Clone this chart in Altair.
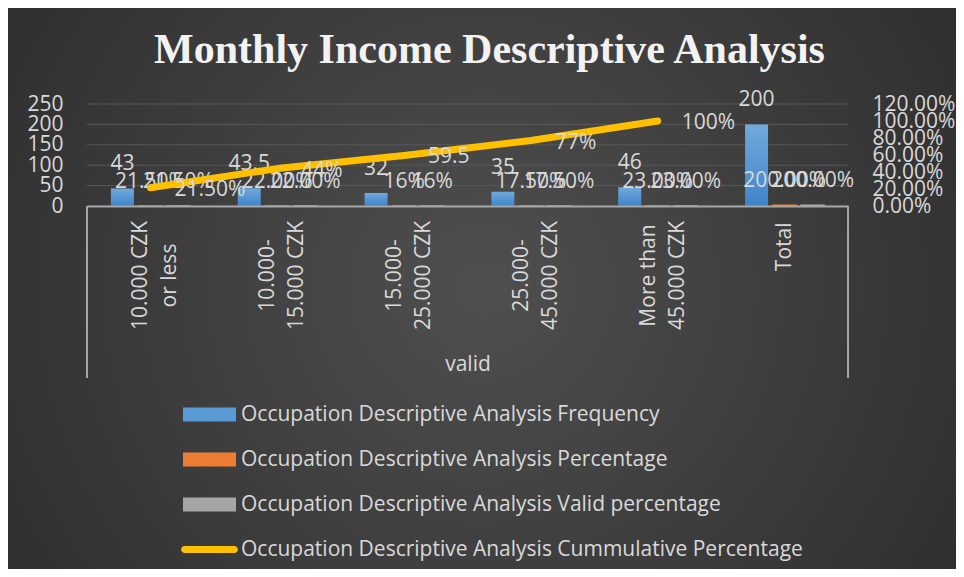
import json
import altair as alt
import pandas as pd

# ---------------- data ----------------
categories = ["10.000 CZK or less", "10.000-15.000 CZK", "15.000-25.000 CZK",
              "25.000-45.000 CZK", "More than 45.000 CZK", "Total"]
category_lines = [["10.000 CZK", "or less"], ["10.000-", "15.000 CZK"], ["15.000-", "25.000 CZK"],
                  ["25.000-", "45.000 CZK"], ["More than", "45.000 CZK"], ["Total"]]

series_names = ["Occupation Descriptive Analysis Frequency",
                "Occupation Descriptive Analysis Percentage",
                "Occupation Descriptive Analysis Valid percentage"]
line_name = "Occupation Descriptive Analysis Cummulative Percentage"

frequency = [43, 43.5, 32, 35, 46, 200]
frequency_labels = ["43", "43.5", "32", "35", "46", "200"]
percentage = [0.215, 0.22, 0.16, 0.175, 0.23, 2.0]
percentage_labels = ["21.50%", "22.00%", "16%", "17.50%", "23.00%", "200.00%"]
valid_percentage = [0.215, 0.22, 0.16, 0.175, 0.23, 2.0]
valid_labels = ["21.50%", "22.00%", "16%", "17.50%", "23.00%", "200.00%"]
cumulative = [0.215, 0.44, 0.595, 0.77, 1.0]
cumulative_labels = ["21.50%", "44%", "59.5", "77%", "100%"]

left_ticks = [0, 50, 100, 150, 200, 250]
right_ticks = [0, 0.2, 0.4, 0.6, 0.8, 1.0, 1.2]

colors = ["#5b9bd5", "#ed7d31", "#a5a5a5", "#ffc000"]

# ---------------- tables ----------------
rows = []
for vals, labs, name in [(frequency, frequency_labels, series_names[0]),
                         (percentage, percentage_labels, series_names[1]),
                         (valid_percentage, valid_labels, series_names[2])]:
    for c, v, l in zip(categories, vals, labs):
        rows.append({"cat": c, "series": name, "value": v, "label": l})
bars_df = pd.DataFrame(rows)
line_df = pd.DataFrame({"cat": categories[:5], "cum": cumulative, "label": cumulative_labels})
legend_df = pd.DataFrame({"series": series_names + [line_name]})
grid_df = pd.DataFrame({"value": left_ticks})

# ---------------- styling ----------------
FONT = "Open Sans"
TXT = "#d9d9d9"
W, H = 761, 102
PAD = {"left": 79, "top": 96, "right": 108, "bottom": 363}

label_expr = ""
for c, lines in zip(categories, category_lines):
    label_expr += f"datum.value == {json.dumps(c)} ? {json.dumps(lines)} : "
label_expr += "datum.label"
single_test = " || ".join(f"datum.value == {json.dumps(c)}"
                          for c, lines in zip(categories, category_lines) if len(lines) == 1)

x_scale = alt.Scale(domain=categories, paddingInner=0.377, paddingOuter=0.1885)
x_axis = alt.Axis(title="valid", labelAngle=-90,
                  labelAlign={"condition": {"test": single_test, "value": "right"}, "value": "center"},
                  labelPadding={"condition": {"test": single_test, "value": 16}, "value": 69},
                  labelOffset={"condition": {"test": single_test, "value": 0}, "value": -9},
                  labelBaseline="middle",
                  labelExpr=label_expr, labelFont=FONT, labelFontSize=21, labelColor=TXT,
                  labelLineHeight=29, labelLimit=0, ticks=False, tickSize=0,
                  domainColor="#a6a6a6", domainWidth=2, grid=False, zindex=1,
                  titleFont=FONT, titleFontSize=21, titleFontWeight="normal", titleColor=TXT,
                  titleY=164, titleBaseline="alphabetic")
X = alt.X("cat:N", sort=categories, scale=x_scale, axis=x_axis)

y_left_scale = alt.Scale(domain=[0, 250], nice=False)
y_left_axis = alt.Axis(values=left_ticks, title=None, grid=False, domain=False, ticks=False,
                       labelPadding=24, labelFont=FONT, labelFontSize=21, labelColor=TXT,
                       labelOverlap=False, zindex=1)
y_right_axis = alt.Axis(orient="right", values=right_ticks, format=".2%",
                        title=None, grid=False, domain=False, ticks=False, labelPadding=24,
                        labelFont=FONT, labelFontSize=21, labelColor=TXT, labelOverlap=False,
                        zindex=1)
YL = alt.Y("value:Q", scale=y_left_scale, axis=y_left_axis)

bar_fill_scale = alt.Scale(domain=series_names[1:], range=colors[1:3])
xoff = alt.XOffset("series:N", sort=series_names,
                   scale=alt.Scale(domain=series_names, paddingInner=0.18, paddingOuter=0))

# background
background = alt.Chart(alt.Data(values=[{"k": 1}])).mark_rect(
    fill=alt.RadialGradient(gradient="radial", x1=0.5, y1=0.5, r1=0, x2=0.5, y2=0.5, r2=0.75,
                            stops=[alt.GradientStop(offset=0, color="#4f4f4f"),
                                   alt.GradientStop(offset=1, color="#262626")])
).encode(x=alt.value(-PAD["left"]), x2=alt.value(W + PAD["right"]),
         y=alt.value(-PAD["top"]), y2=alt.value(H + PAD["bottom"]))

grid = alt.Chart(grid_df).mark_rule(color="#595959", strokeWidth=1).encode(y=YL)

freq_bars = alt.Chart(bars_df).transform_filter(
    alt.datum.series == series_names[0]
).mark_bar(
    fill=alt.LinearGradient(gradient="linear", x1=0, y1=0, x2=0, y2=1,
                            stops=[alt.GradientStop(offset=0, color="#72a9dd"),
                                   alt.GradientStop(offset=1, color="#3f84c8")])
).encode(x=X, xOffset=xoff, y=YL)

pct_bars = alt.Chart(bars_df).transform_filter(
    alt.datum.series != series_names[0]
).mark_bar(strokeWidth=1.5).encode(
    x=X, xOffset=xoff, y=YL,
    fill=alt.Fill("series:N", scale=bar_fill_scale, legend=None),
    stroke=alt.Stroke("series:N", scale=bar_fill_scale, legend=None),
)
bar_labels = alt.Chart(bars_df).mark_text(font=FONT, fontSize=21, color=TXT, dy=-24,
                                          baseline="middle").encode(
    x=X, xOffset=xoff, y=YL, text="label:N")

frame_left = alt.Chart(alt.Data(values=[{"k": 1}])).mark_rule(color="#a6a6a6", strokeWidth=2).encode(
    x=alt.value(0), y=alt.value(H), y2=alt.value(H + 172))
frame_right = alt.Chart(alt.Data(values=[{"k": 1}])).mark_rule(color="#a6a6a6", strokeWidth=2).encode(
    x=alt.value(W), y=alt.value(H), y2=alt.value(H + 172))

rect_path = "M-1,-0.264H1V0.264H-1Z"
stadium_path = "M-0.94,-0.132H0.94A0.132,0.132,0,0,1,0.94,0.132H-0.94A0.132,0.132,0,0,1,-0.94,-0.132Z"
legend_def = alt.Legend(orient="none", legendX=96, legendY=284, title=None, direction="vertical",
                        labelFont=FONT, labelFontSize=21, labelColor=TXT, symbolSize=2809,
                        symbolOpacity=1, symbolStrokeWidth=0, labelOffset=5, labelLimit=0,
                        rowPadding=8)
legend_layer = alt.Chart(legend_df).mark_point(filled=True, opacity=0).encode(
    color=alt.Color("series:N", scale=alt.Scale(domain=series_names + [line_name], range=colors),
                    legend=legend_def),
    shape=alt.Shape("series:N", scale=alt.Scale(domain=series_names + [line_name],
                                                range=[rect_path, rect_path, rect_path, stadium_path]),
                    legend=legend_def),
)

bar_group = alt.layer(background, grid, frame_left, frame_right, freq_bars, pct_bars,
                      bar_labels, legend_layer)

Y2 = alt.Y("cum:Q", scale=alt.Scale(domain=[0, 1.2], nice=False), axis=y_right_axis)
line = alt.Chart(line_df).mark_line(color=colors[3], strokeWidth=7, strokeCap="round",
                                    strokeJoin="round").encode(x=X, y=Y2)
line_labels = alt.Chart(line_df).mark_text(font=FONT, fontSize=21, color=TXT, align="left",
                                           dx=24, dy=2, baseline="middle").encode(
    x=X, y=Y2, text="label:N")
line_group = alt.layer(line, line_labels)

chart = alt.layer(bar_group, line_group).resolve_scale(y="independent").properties(
    width=W, height=H,
    title=alt.TitleParams("Monthly Income Descriptive Analysis", font="Liberation Serif",
                          fontSize=42, fontWeight="bold", color="#f2f2f2", anchor="middle",
                          dx=22, offset=-97, baseline="alphabetic"),
    autosize=alt.AutoSizeParams(type="none"),
    padding=PAD,
    background="#333333",
).configure_view(strokeWidth=0)

chart.save("out.html", embed_options={"renderer": "svg", "actions": False})
